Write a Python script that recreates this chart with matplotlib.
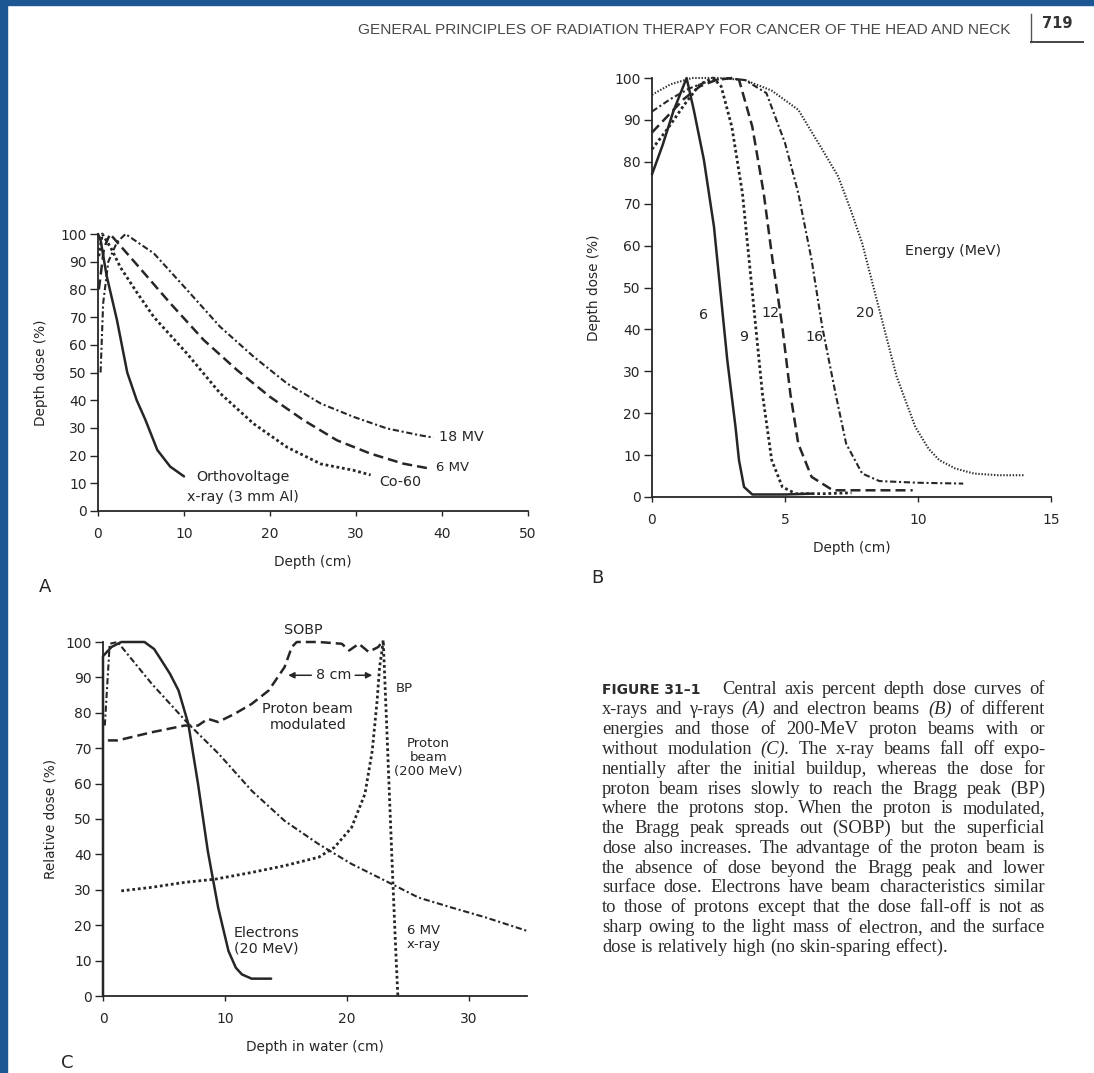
import matplotlib
matplotlib.use('Agg')
import matplotlib.pyplot as plt
from matplotlib.lines import Line2D

W, H = 1094, 1073
INK = '#262626'
BLUE = '#1c5793'
SANS = 'DejaVu Sans'
SERIF = 'Liberation Serif'

# --- A: x-rays / gamma rays (depth cm, dose %) ---
a_ortho_x = [0, 0.3, 1.0, 2.2, 3.4, 4.5, 5.5, 6.9, 8.4, 10.0]
a_ortho_y = [100, 97.8, 85, 69, 50, 40, 33, 22, 16, 12.5]
a_co60_x = [0.1, 0.5, 1.5, 2.6, 4.5, 6.5, 10.3, 14.2, 18.1, 22.0, 25.9, 29.7, 31.7]
a_co60_y = [92, 100, 95, 88, 79, 70, 57, 42.5, 31.5, 23, 17, 14.7, 13]
a_6mv_x = [0.1, 0.7, 1.4, 4.5, 8.4, 12.3, 16.2, 20.0, 23.9, 27.8, 31.7, 35.5, 38.6]
a_6mv_y = [80, 95, 100, 89, 75, 61.7, 50.8, 41.2, 32.8, 25.5, 20.7, 17.1, 15.3]
a_18mv_x = [0.3, 0.6, 1.2, 2.2, 3.2, 6.5, 10.3, 14.2, 18.1, 22.0, 25.9, 29.7, 33.6, 37.5, 39.0]
a_18mv_y = [50, 75, 90, 97, 100, 93, 80, 66.5, 55.7, 46, 38.8, 34, 29.8, 27.3, 26.5]

# --- B: electron beams ---
b6_x = [0, 0.4, 0.8, 1.3, 1.57, 1.95, 2.33, 2.58, 2.83, 3.14, 3.27, 3.46, 3.77, 5.0, 6.0]
b6_y = [77, 84, 92, 100, 92.4, 80.5, 64.5, 48.6, 32.7, 16.7, 8.8, 2.4, 0.6, 0.6, 0.8]
b9_x = [0, 0.6, 1.2, 1.8, 2.3, 2.6, 3.0, 3.4, 3.65, 3.9, 4.15, 4.5, 4.9, 5.4, 6.5, 7.5]
b9_y = [83, 88, 93.5, 98.5, 100, 98, 88.4, 72.5, 56.6, 40.6, 24.7, 8.8, 2.4, 0.8, 0.8, 1.0]
b12_x = [0, 0.6, 1.2, 1.8, 2.4, 3.0, 3.27, 3.77, 4.2, 4.53, 4.9, 5.2, 5.5, 6.0, 6.8, 8.0, 9.8]
b12_y = [87, 91, 95, 98, 99.5, 100, 99.6, 88.4, 72.5, 56.6, 40.6, 24.7, 12.7, 4.8, 1.6, 1.6, 1.6]
b16_x = [0, 0.7, 1.4, 2.1, 2.8, 3.5, 4.3, 5.0, 5.5, 6.0, 6.4, 6.9, 7.3, 7.9, 8.55, 10.0, 11.7]
b16_y = [92, 95, 97.5, 99.2, 100, 99.5, 96.4, 84.5, 72.5, 56.6, 40.6, 24.7, 12.7, 5.6, 3.8, 3.4, 3.2]
b20_x = [0, 0.7, 1.5, 2.5, 3.5, 4.5, 5.5, 6.3, 7.0, 7.5, 7.9, 8.55, 9.2, 9.9, 10.4, 10.8, 11.4, 12.1, 13.0, 14.0]
b20_y = [96, 98.5, 100, 100, 99.5, 97, 92.4, 84, 76.5, 68, 60.6, 44.6, 28.7, 16.7, 11.5, 8.8, 6.8, 5.6, 5.2, 5.2]

# --- C: electrons vs 6 MV vs protons ---
c_elec_x = [0, 0, 0.7, 1.5, 2.5, 3.4, 4.2, 4.8, 5.5, 6.2, 7.0, 7.8, 8.6, 9.45, 10.3, 10.9, 11.4, 12.2, 13.8]
c_elec_y = [0, 96, 98.6, 100, 100, 100, 98, 94.8, 91, 86.3, 76.9, 59.9, 41, 25, 12.7, 8, 6.1, 4.9, 4.9]
c_6mv_x = [0.15, 0.55, 1.2, 4.0, 7.0, 9.5, 12.2, 14.9, 17.7, 20.4, 23.2, 25.9, 28.6, 31.4, 34.8]
c_6mv_y = [76.4, 99.5, 100, 88.2, 76.9, 68.4, 58, 49.5, 42.9, 37.3, 32.5, 27.8, 25, 22.2, 18.4]
c_prot_x = [1.5, 4.0, 6.7, 9.2, 12.2, 14.9, 17.7, 19.0, 20.4, 21.5, 22.1, 22.5, 22.7, 22.9, 23.0, 23.3, 23.7, 24.0, 24.2]
c_prot_y = [29.7, 30.7, 32.1, 33, 34.9, 36.8, 39.2, 42, 47.6, 57.1, 69.3, 83.5, 92.9, 97.6, 100.5, 75, 40, 15, 0]
c_sobp_x = [0.4, 1.2, 4.0, 6.7, 7.8, 8.6, 9.45, 10.8, 12.2, 13.6, 14.9, 15.5, 15.9, 17.7, 19.6, 20.2, 21.0, 21.8, 22.6, 23.0]
c_sobp_y = [72.2, 72.2, 74.5, 76.4, 76.4, 78.3, 77.4, 79.7, 82.5, 86.3, 92.9, 98.6, 100, 100, 99.5, 97.6, 99.5, 97.2, 98.6, 100.5]

header = 'GENERAL PRINCIPLES OF RADIATION THERAPY FOR CANCER OF THE HEAD AND NECK'
page_no = '719'
caption_lines = [
    'Central axis percent depth dose curves of',
    'x-rays and \u03b3-rays (A) and electron beams (B) of different',
    'energies and those of 200-MeV proton beams with or',
    'without modulation (C). The x-ray beams fall off expo-',
    'nentially after the initial buildup, whereas the dose for',
    'proton beam rises slowly to reach the Bragg peak (BP)',
    'where the protons stop. When the proton is modulated,',
    'the Bragg peak spreads out (SOBP) but the superficial',
    'dose also increases. The advantage of the proton beam is',
    'the absence of dose beyond the Bragg peak and lower',
    'surface dose. Electrons have beam characteristics similar',
    'to those of protons except that the dose fall-off is not as',
    'sharp owing to the light mass of electron, and the surface',
    'dose is relatively high (no skin-sparing effect).',
]

# line styles
SOLID = '-'
DOT = (0, (1, 1))
DASH = (0, (4, 2))
DASHDOT = (0, (3, 1.3, 1, 1.3))
FINEDOT = (0, (0.7, 0.8))

TICK_SIZE = 10
TEXT_SIZE = 10.3
AXLAB_SIZE = 9.8


def fx(px):
    return px / W


def fy(py):
    return 1 - py / H


def make_ax(fig, x0, x1, y0, y1, xmax, ymax=100):
    # x0/x1 = pixel of x=0 / x=xmax, y0/y1 = pixel of y=0 / y=ymax
    ax = fig.add_axes([fx(x0), fy(y0), (x1 - x0) / W, (y0 - y1) / H])
    ax.set_xlim(0, xmax)
    ax.set_ylim(0, ymax)
    ax.patch.set_alpha(0)
    for s in ['top', 'right']:
        ax.spines[s].set_visible(False)
    for s in ['left', 'bottom']:
        ax.spines[s].set_color(INK)
        ax.spines[s].set_linewidth(1.3)
    ax.set_yticks(range(0, 101, 10))
    ax.tick_params(axis='y', direction='out', length=5.5, width=1, pad=2.5,
                   labelsize=TICK_SIZE, colors=INK)
    ax.tick_params(axis='x', direction='out', length=3.5, width=1, pad=8,
                   labelsize=TICK_SIZE, colors=INK)
    for lab in ax.get_xticklabels() + ax.get_yticklabels():
        lab.set_family(SANS)
    return ax


def curve(ax, x, y, ls, lw=1.7, color=INK):
    ax.plot(x, y, linestyle=ls, lw=lw, color=color, clip_on=False,
            solid_capstyle='round', dash_capstyle='butt')


def label(ax, x, y, s, size=TEXT_SIZE, ha='center', **kw):
    ax.text(x, y, s, fontsize=size, ha=ha, va='center', color=INK,
            family=SANS, linespacing=1.1, clip_on=False, **kw)


def axis_labels(ax, xl, yl, ypad=9):
    ax.set_ylabel(yl, fontsize=AXLAB_SIZE, family=SANS, color=INK, labelpad=ypad)
    ax.set_xlabel(xl, fontsize=AXLAB_SIZE, family=SANS, color=INK, labelpad=10)


fig = plt.figure(figsize=(W / 100, H / 100), dpi=100)
fig.patch.set_facecolor('white')

# blue frame of the screenshot
fig.add_artist(plt.Rectangle((0, 0), fx(7), 1, transform=fig.transFigure,
                             color=BLUE, zorder=0))
fig.add_artist(plt.Rectangle((0, fy(5)), 1, fx(5), transform=fig.transFigure,
                             color=BLUE, zorder=0))

# =============================================================================
# Panel A
# =============================================================================
axA = make_ax(fig, 98, 528, 511, 234, 50)
axA.set_xticks(range(0, 51, 10))
curve(axA, a_ortho_x, a_ortho_y, SOLID, lw=1.8)
curve(axA, a_co60_x, a_co60_y, DOT, lw=2.0)
curve(axA, a_6mv_x, a_6mv_y, DASH, lw=1.8)
curve(axA, a_18mv_x, a_18mv_y, DASHDOT, lw=1.5)
label(axA, 16.8, 12.3, 'Orthovoltage')
label(axA, 16.8, 5.1, 'x-ray (3 mm Al)')
label(axA, 35.2, 10.6, 'Co-60')
label(axA, 39.3, 15.6, '6 MV', ha='left', size=9.5)
label(axA, 39.6, 26.7, '18 MV', ha='left')
axis_labels(axA, 'Depth (cm)', 'Depth dose (%)')

# =============================================================================
# Panel B
# =============================================================================
axB = make_ax(fig, 652, 1051, 497, 78, 15)
axB.set_xticks([0, 5, 10, 15])
curve(axB, b20_x, b20_y, FINEDOT, lw=1.5, color='#333333')
curve(axB, b16_x, b16_y, DASHDOT, lw=1.5)
curve(axB, b12_x, b12_y, DASH, lw=1.8)
curve(axB, b9_x, b9_y, DOT, lw=2.0)
curve(axB, b6_x, b6_y, SOLID, lw=1.8)
label(axB, 1.95, 43.4, '6')
label(axB, 3.45, 38.2, '9')
label(axB, 4.45, 43.8, '12')
label(axB, 6.1, 38.2, '16')
label(axB, 8.0, 43.8, '20')
label(axB, 11.3, 58.6, 'Energy (MeV)')
axis_labels(axB, 'Depth (cm)', 'Depth dose (%)', ypad=10)

# =============================================================================
# Panel C
# =============================================================================
axC = make_ax(fig, 103, 527, 996, 642, 34.8)
axC.set_xticks([0, 10, 20, 30])
curve(axC, c_6mv_x, c_6mv_y, DASHDOT, lw=1.5)
curve(axC, c_prot_x, c_prot_y, DOT, lw=2.0)
curve(axC, c_sobp_x, c_sobp_y, DASH, lw=1.8)
curve(axC, c_elec_x, c_elec_y, SOLID, lw=1.8)
label(axC, 16.4, 103.5, 'SOBP')
label(axC, 18.9, 90.6, '8 cm')
arr = dict(arrowstyle='-|>', color=INK, lw=1.1, mutation_scale=9,
           shrinkA=0, shrinkB=0)
axC.annotate('', xy=(15.2, 90.6), xytext=(17.1, 90.6), arrowprops=arr)
axC.annotate('', xy=(22.1, 90.6), xytext=(20.7, 90.6), arrowprops=arr)
label(axC, 24.0, 86.8, 'BP', ha='left', size=9.5)
label(axC, 16.8, 78.8, 'Proton beam\nmodulated')
label(axC, 26.7, 67.5, 'Proton\nbeam\n(200 MeV)', size=9.5)
label(axC, 13.4, 15.6, 'Electrons\n(20 MeV)')
label(axC, 26.3, 16.5, '6 MV\nx-ray', size=9.5)
axis_labels(axC, 'Depth in water (cm)', 'Relative dose (%)', ypad=6)

# panel letters
for px_, py_, s in [(45, 587, 'A'), (597, 578, 'B'), (67, 1063, 'C')]:
    fig.text(fx(px_), fy(py_), s, fontsize=13, family=SANS, color=INK,
             ha='center', va='center')

# =============================================================================
# header + caption
# =============================================================================
rend = fig.canvas.get_renderer()

hdr = fig.text(fx(358), fy(30), header, fontsize=10, family='Liberation Sans',
               color='#4a4a4a', ha='left', va='center')
w0 = hdr.get_window_extent(rend).width
hdr.set_fontsize(10 * 655 / w0)

fig.text(fx(1057), fy(23), page_no, fontsize=10.5, family=SANS, weight='bold',
         color='#333333', ha='center', va='center')
fig.add_artist(Line2D([fx(1031), fx(1031)], [fy(14), fy(42)], color='#555555', lw=1))
fig.add_artist(Line2D([fx(1031), fx(1083)], [fy(41.5), fy(41.5)], color='#444444', lw=1.4))

CAP_SIZE = 13.3
fig.text(fx(602), fy(694.5), 'FIGURE 31\u20131', fontsize=10, family=SANS,
         weight='bold', color='#2b2b2b', ha='left', va='baseline')


def justify(line, x0, x1, yb, last=False):
    objs = []
    for w in line.split():
        core = w.strip('().,')
        style = 'italic' if w.startswith('(') and len(core) == 1 else 'normal'
        objs.append(fig.text(0, fy(yb), w, fontsize=CAP_SIZE, family=SERIF,
                             style=style, color='#2b2b2b', ha='left', va='baseline'))
    widths = [o.get_window_extent(rend).width for o in objs]
    if last or len(objs) < 2:
        gap = CAP_SIZE * 100 / 72 * 0.25
    else:
        gap = (x1 - x0 - sum(widths)) / (len(objs) - 1)
    x = x0
    for o, w in zip(objs, widths):
        o.set_x(fx(x))
        x += w + gap


for i, line in enumerate(caption_lines):
    yb = 694.5 + 19.8 * i
    x0 = 722 if i == 0 else 602
    justify(line, x0, 1045, yb, last=(i == len(caption_lines) - 1))

fig.savefig('out.png', dpi=100, facecolor='white')
